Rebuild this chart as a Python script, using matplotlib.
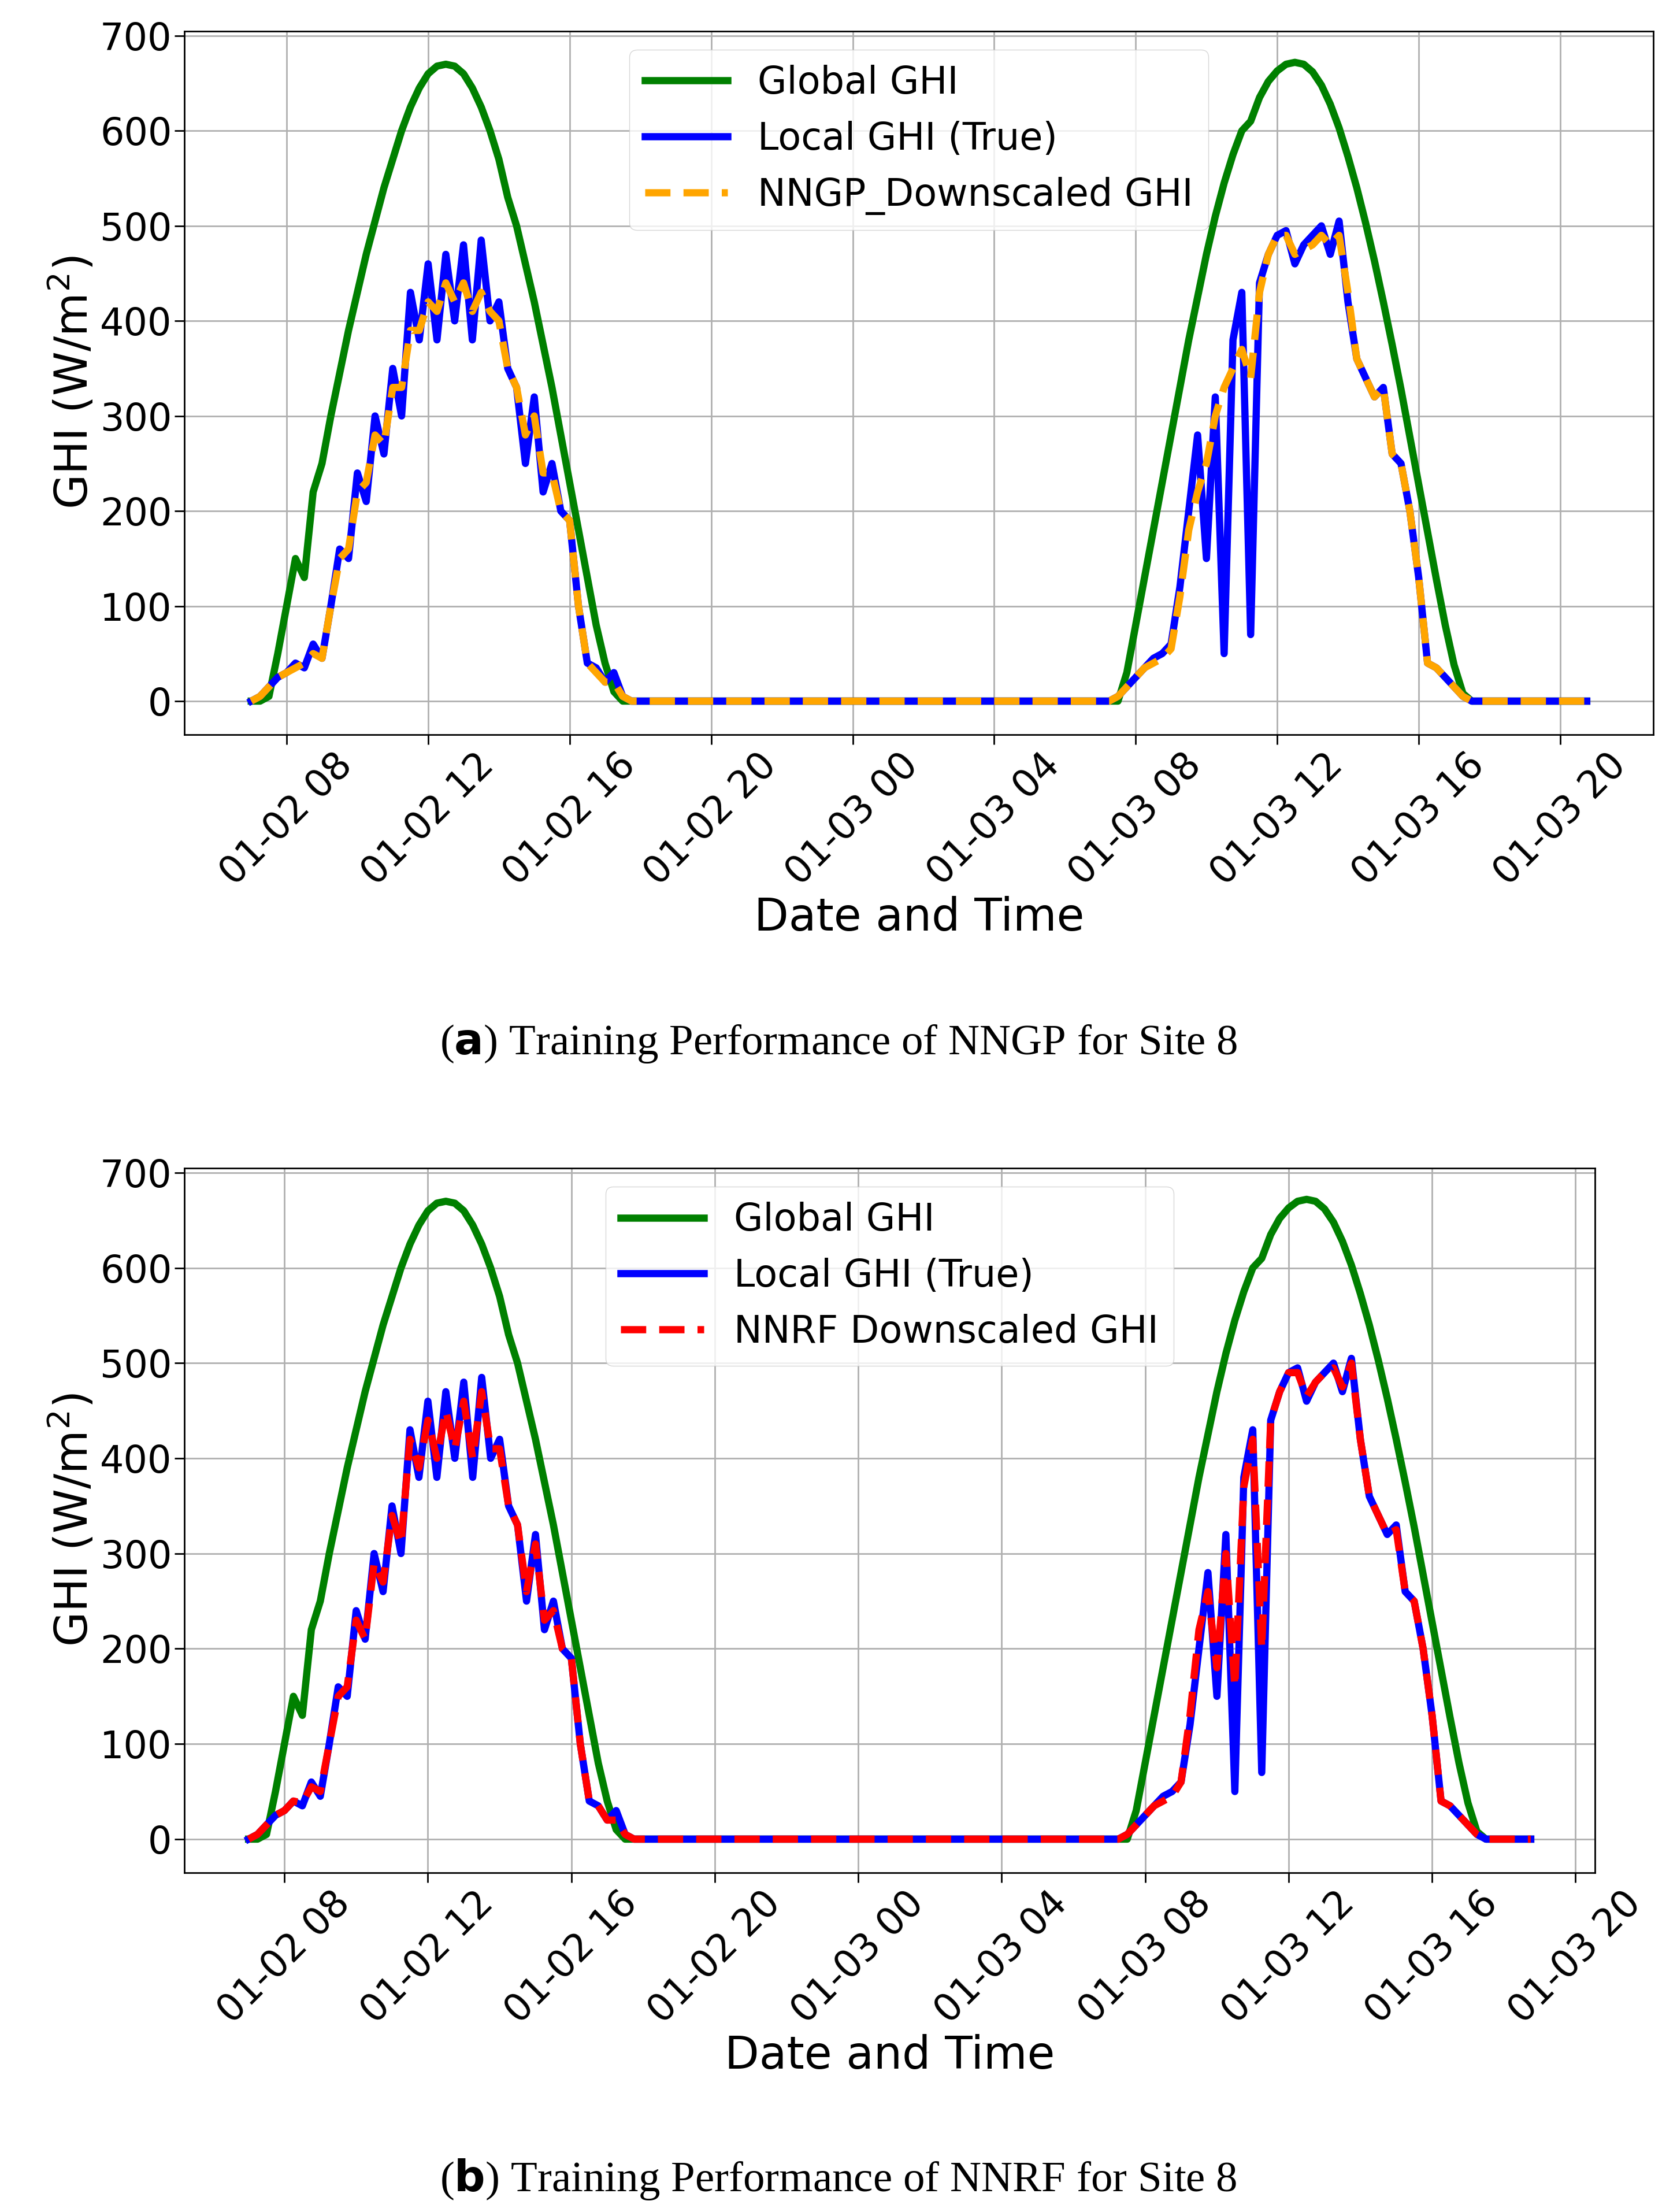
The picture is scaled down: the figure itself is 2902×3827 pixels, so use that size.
import numpy as np
import pandas as pd
import matplotlib
matplotlib.use('Agg')
import matplotlib.pyplot as plt
import matplotlib.dates as mdates

# 15-min daytime values, 07:00 .. 18:00 (45 points per day)
global_day1 = [0, 0, 5, 50, 100, 150, 130, 220, 250, 300, 345, 390, 430, 470, 505, 540,
               570, 600, 625, 645, 660, 668, 670, 668, 660, 645, 625, 600, 570, 530, 500,
               460, 420, 375, 330, 280, 230, 180, 130, 80, 40, 10, 0, 0, 0]
global_day2 = [0, 0, 0, 30, 80, 130, 180, 230, 280, 330, 380, 425, 470, 510, 545, 575,
               600, 610, 635, 652, 663, 670, 672, 670, 662, 648, 628, 603, 573, 540, 503,
               463, 420, 375, 328, 278, 228, 178, 128, 80, 38, 8, 0, 0, 0]
local_day1 = [0, 5, 15, 25, 30, 40, 35, 60, 45, 100, 160, 150, 240, 210, 300, 260,
              350, 300, 430, 380, 460, 380, 470, 400, 480, 380, 485, 400, 420, 350, 330,
              250, 320, 220, 250, 200, 190, 100, 40, 35, 20, 30, 5, 0, 0]
local_day2 = [0, 0, 5, 15, 25, 35, 45, 50, 60, 120, 200, 280, 150, 320, 50, 380,
              430, 70, 440, 470, 490, 495, 460, 480, 490, 500, 470, 505, 420, 360, 340,
              320, 330, 260, 250, 200, 130, 40, 35, 25, 15, 5, 0, 0, 0]
nngp_day1 = [0, 5, 15, 25, 30, 35, 40, 50, 45, 100, 150, 160, 220, 230, 280, 270,
             330, 330, 390, 390, 420, 410, 440, 420, 440, 410, 430, 410, 400, 350, 330,
             280, 300, 240, 240, 200, 190, 100, 40, 30, 20, 20, 5, 0, 0]
nngp_day2 = [0, 0, 5, 15, 25, 35, 40, 45, 55, 110, 180, 220, 250, 300, 330, 350,
             370, 340, 430, 470, 490, 490, 470, 475, 480, 490, 480, 490, 430, 360, 340,
             320, 330, 260, 250, 200, 130, 40, 35, 25, 15, 5, 0, 0, 0]
nnrf_day1 = [0, 5, 15, 25, 30, 40, 38, 55, 50, 100, 150, 160, 230, 210, 290, 270,
             340, 310, 420, 390, 440, 400, 450, 410, 460, 400, 470, 410, 410, 350, 330,
             260, 310, 230, 240, 200, 190, 100, 40, 35, 20, 20, 5, 0, 0]
nnrf_day2 = [0, 0, 5, 15, 25, 35, 40, 45, 60, 130, 220, 260, 180, 300, 160, 370,
             420, 200, 440, 470, 490, 490, 465, 480, 490, 495, 475, 500, 420, 360, 340,
             320, 325, 260, 250, 200, 130, 40, 35, 25, 15, 5, 0, 0, 0]
night_zeros = [0] * 51          # 18:15 .. 06:45
tail_top = [0] * 11             # 18:15 .. 20:45
tail_bottom = [0] * 3           # 18:15 .. 18:45


def series(d1, d2, tail):
    return np.array(d1 + night_zeros + d2 + tail, dtype=float)


def make_panel(ax, model_day1, model_day2, tail, model_label, model_color):
    n = len(global_day1) * 2 + len(night_zeros) + len(tail)
    t = pd.date_range('2024-01-02 07:00', periods=n, freq='15min')
    lw = 9
    ax.plot(t, series(global_day1, global_day2, tail), color='green', lw=lw, label='Global GHI')
    ax.plot(t, series(local_day1, local_day2, tail), color='blue', lw=lw, label='Local GHI (True)')
    ax.plot(t, series(model_day1, model_day2, tail), color=model_color, lw=lw, ls='--',
            dashes=(3.5, 1.8), label=model_label)
    ax.set_ylim(-35, 705)
    ax.set_yticks(range(0, 701, 100))
    ax.xaxis.set_major_locator(mdates.HourLocator(byhour=[0, 4, 8, 12, 16, 20]))
    ax.xaxis.set_major_formatter(mdates.DateFormatter('%m-%d %H'))
    ax.tick_params(labelsize=47, length=12, width=2)
    plt.setp(ax.get_xticklabels(), rotation=45, ha='center')
    ax.grid(True, color='#b0b0b0', lw=2)
    ax.set_xlabel('Date and Time', fontsize=56)
    ax.set_ylabel('GHI (W/m$^2$)', fontsize=56)
    for s in ax.spines.values():
        s.set_linewidth(2)
    ax.legend(loc='upper center', fontsize=47, handlelength=2.2, framealpha=0.8)


fig = plt.figure(figsize=(29.02, 38.27), dpi=100)
ax1 = fig.add_axes([0.11, 0.668, 0.876, 0.318])
ax2 = fig.add_axes([0.11, 0.1535, 0.841, 0.3185])
make_panel(ax1, nngp_day1, nngp_day2, tail_top, 'NNGP_Downscaled GHI', 'orange')
make_panel(ax2, nnrf_day1, nnrf_day2, tail_bottom, 'NNRF Downscaled GHI', 'red')

cap = dict(fontsize=54, family='Liberation Serif', ha='center', va='center')
fig.text(0.5, 0.528, r'($\mathbf{a}$) Training Performance of NNGP for Site 8', **cap)
fig.text(0.5, 0.0147, r'($\mathbf{b}$) Training Performance of NNRF for Site 8', **cap)

fig.savefig('out.png', dpi=100)
